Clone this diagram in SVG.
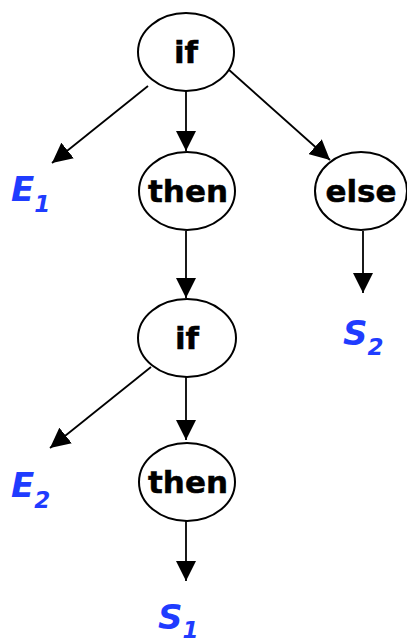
<svg xmlns="http://www.w3.org/2000/svg" width="407" height="644" viewBox="0 0 407 644">
  <style>
    .node ellipse { fill: #fff; stroke: #000; stroke-width: 2; }
    .node text { font-family: "DejaVu Sans", "Liberation Sans", sans-serif; font-weight: bold; font-size: 31px; fill: #000; stroke: #000; stroke-width: 0.5; text-anchor: middle; }
    .edge { stroke: #000; stroke-width: 1.8; fill: none; marker-end: url(#arrow); }
    .leaf { font-family: "DejaVu Sans", "Liberation Sans", sans-serif; font-weight: bold; font-style: italic; fill: #1f3cff; }
    .leaf .main { font-size: 34px; }
    .leaf .sub { font-size: 23px; }
  </style>
  <defs>
    <marker id="arrow" markerWidth="20" markerHeight="20" refX="20" refY="10" orient="auto" markerUnits="userSpaceOnUse">
      <path d="M0,0 L20,10 L0,20 Z" fill="#000"/>
    </marker>
  </defs>

  <!-- connectors -->
  <g id="edges">
    <line class="edge" x1="148" y1="86" x2="52" y2="163"/>
    <line class="edge" x1="186" y1="91" x2="186" y2="151"/>
    <line class="edge" x1="228" y1="69" x2="330" y2="160"/>
    <line class="edge" x1="186" y1="231" x2="186" y2="298"/>
    <line class="edge" x1="363" y1="231" x2="363" y2="293"/>
    <line class="edge" x1="151" y1="367" x2="50" y2="448"/>
    <line class="edge" x1="186" y1="377" x2="186" y2="440"/>
    <line class="edge" x1="186" y1="521" x2="186" y2="581"/>
  </g>

  <!-- nodes -->
  <g id="if1" class="node">
    <ellipse cx="186" cy="52" rx="48" ry="39"/>
    <text x="186" y="63">if</text>
  </g>
  <g id="then1" class="node">
    <ellipse cx="187" cy="191" rx="48" ry="39"/>
    <text x="188" y="202">then</text>
  </g>
  <g id="else1" class="node">
    <ellipse cx="361" cy="191" rx="46" ry="39"/>
    <text x="361" y="202">else</text>
  </g>
  <g id="if2" class="node">
    <ellipse cx="187" cy="338" rx="49" ry="39"/>
    <text x="187" y="349">if</text>
  </g>
  <g id="then2" class="node">
    <ellipse cx="187" cy="482" rx="48" ry="39"/>
    <text x="188" y="493">then</text>
  </g>

  <!-- leaf labels -->
  <g id="E1" class="leaf">
    <text x="11" y="201"><tspan class="main">E</tspan><tspan class="sub" dy="11">1</tspan></text>
  </g>
  <g id="E2" class="leaf">
    <text x="11" y="497"><tspan class="main">E</tspan><tspan class="sub" dy="11">2</tspan></text>
  </g>
  <g id="S2" class="leaf">
    <text x="343" y="345"><tspan class="main">S</tspan><tspan class="sub" dy="10">2</tspan></text>
  </g>
  <g id="S1" class="leaf">
    <text x="158" y="629"><tspan class="main">S</tspan><tspan class="sub" dy="9">1</tspan></text>
  </g>
</svg>
